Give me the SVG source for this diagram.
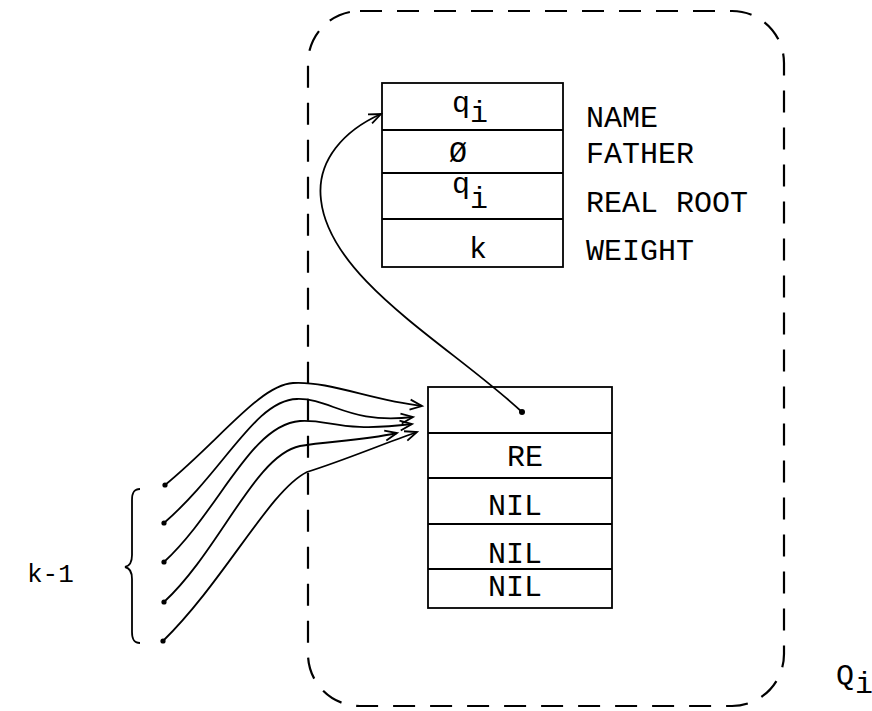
<svg xmlns="http://www.w3.org/2000/svg" width="872" height="711" viewBox="0 0 872 711">
<style>
  .t { font-family: "Liberation Mono", "DejaVu Sans Mono", monospace; font-size: 30px; fill: #000; }
  .box { fill: none; stroke: #000; stroke-width: 1.8; }
  .conn { fill: none; stroke: #000; stroke-width: 1.8; }
  .dash { fill: none; stroke: #000; stroke-width: 2.2; stroke-dasharray: 22 15; }
</style>
<defs>
  <marker id="arr" markerUnits="userSpaceOnUse" markerWidth="16" markerHeight="16" refX="13" refY="6" orient="auto" viewBox="0 0 16 12">
    <path d="M1,1 L13,6 L1,11" fill="none" stroke="#000" stroke-width="1.8"/>
  </marker>
</defs>
<rect width="872" height="711" fill="#fff"/>

<g id="boundary-Qi">
  <rect class="dash" x="308" y="11" width="476" height="695" rx="52" ry="52"/>
  <text class="t" x="836" y="685">Q</text>
  <text class="t" x="855" y="693">i</text>
</g>

<g id="record-top">
  <rect class="box" x="382" y="83" width="181" height="184"/>
  <line class="box" x1="382" y1="130" x2="563" y2="130"/>
  <line class="box" x1="382" y1="173" x2="563" y2="173"/>
  <line class="box" x1="382" y1="219" x2="563" y2="219"/>
  <text class="t" x="452" y="112">q</text>
  <text class="t" x="470" y="122">i</text>
  <text class="t" x="449" y="162">Ø</text>
  <text class="t" x="452" y="193">q</text>
  <text class="t" x="470" y="208">i</text>
  <text class="t" x="469" y="258">k</text>
  <text class="t" x="586" y="127">NAME</text>
  <text class="t" x="586" y="163">FATHER</text>
  <text class="t" x="586" y="212">REAL ROOT</text>
  <text class="t" x="586" y="260">WEIGHT</text>
</g>

<g id="record-bottom">
  <rect class="box" x="428" y="387" width="184" height="221"/>
  <line class="box" x1="428" y1="433" x2="612" y2="433"/>
  <line class="box" x1="428" y1="478" x2="612" y2="478"/>
  <line class="box" x1="428" y1="524" x2="612" y2="524"/>
  <line class="box" x1="428" y1="569" x2="612" y2="569"/>
  <circle cx="522" cy="412" r="3"/>
  <text class="t" x="507" y="466">RE</text>
  <text class="t" x="488" y="515">NIL</text>
  <text class="t" x="488" y="563">NIL</text>
  <text class="t" x="488" y="596">NIL</text>
</g>

<g id="pointers-k-1">
  <circle cx="165" cy="485" r="2.6"/>
  <circle cx="164" cy="523" r="2.6"/>
  <circle cx="164" cy="562" r="2.6"/>
  <circle cx="164" cy="602" r="2.6"/>
  <circle cx="163" cy="641" r="2.6"/>
  <path class="conn" d="M140,489 C133,489 132,494 132,500 L132,555 C132,562 130,566 125,567 C130,568 132,572 132,579 L132,632 C132,638 133,643 140,643"/>
  <text class="t" x="27" y="582" style="font-size:26px">k-1</text>
</g>

<g id="connectors">
  <path class="conn" d="M522,412 C450,345 330,280 321,200 C316,160 345,130 381,114" marker-end="url(#arr)"/>
  <path class="conn" d="M165,485 C220,440 260,385 293,383 C330,381 370,400 422,406" marker-end="url(#arr)"/>
  <path class="conn" d="M164,523 C225,470 255,400 297,399 C330,398 350,425 413,417" marker-end="url(#arr)"/>
  <path class="conn" d="M164,562 C220,510 250,425 300,421 C330,419 340,433 412,424" marker-end="url(#arr)"/>
  <path class="conn" d="M164,602 C220,550 255,455 300,446 C330,441 360,441 397,433" marker-end="url(#arr)"/>
  <path class="conn" d="M163,641 C225,580 270,490 307,472 C345,460 380,445 417,432" marker-end="url(#arr)"/>
</g>
</svg>
